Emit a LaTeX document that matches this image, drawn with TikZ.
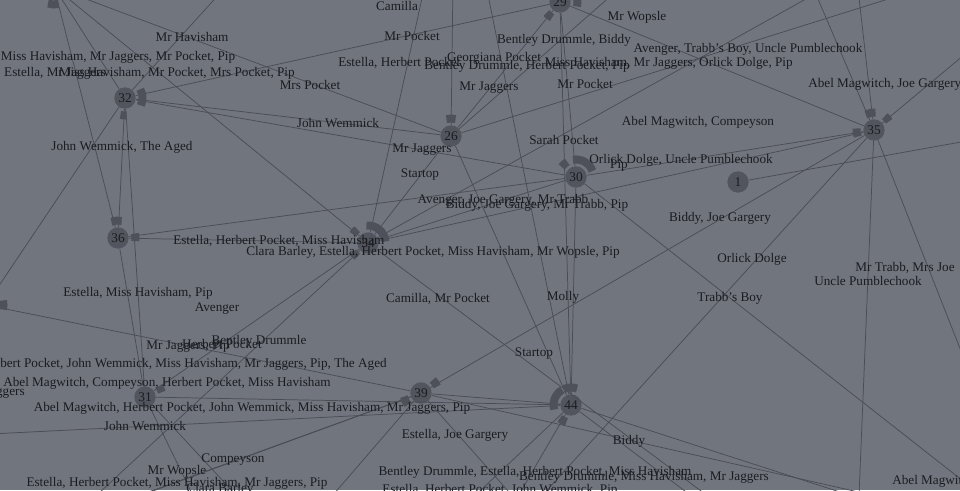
\documentclass[tikz,border=0pt]{standalone}
\usepackage{fontspec}
\setmainfont{Liberation Serif}
\usepackage{tikz}

\definecolor{bgc}{RGB}{113,117,126}
\definecolor{edgec}{RGB}{74,77,85}
\definecolor{nodec}{RGB}{82,85,93}
\definecolor{portc}{RGB}{78,81,89}
\definecolor{txtc}{RGB}{26,28,32}

\tikzset{
  charnode/.style={circle, fill=nodec, minimum size=16pt, inner sep=0pt, text=txtc, font=\fontsize{10}{10}\selectfont},
  link/.style={draw=edgec, line width=0.55pt},
  port/.style={draw=portc, line width=6pt},
  lbl/.style={inner sep=0pt, text=txtc, font=\fontsize{9.9}{11}\selectfont},
}
% arc piece round a node: node, from angle, to angle (angles with y down)
\newcommand{\portarc}[3]{\draw[port] ([shift={(#2:17.5)}]#1.center) arc[start angle=#2, end angle=#3, radius=17.5];}

\begin{document}
\begin{tikzpicture}[x=0.75pt,y=0.75pt,yscale=-1,xscale=1]
        \useasboundingbox (0,0) rectangle (960,490);
        \fill[bgc] (0,0) rectangle (960,490);

        % Points outside the frame
        \coordinate (o1) at (250,-40);
        \coordinate (o2) at (453,-20);
        \coordinate (o3) at (629,-20);
        \coordinate (o4) at (1000,-36);
        \coordinate (o5) at (426,-20);
        \coordinate (o7) at (858,520);
        \coordinate (o8) at (1000,450);
        \coordinate (o9) at (520,520);
        \coordinate (o10) at (1000,510);
        \coordinate (o11) at (485,-20);
        \coordinate (o12) at (812,-15);
        \coordinate (o13) at (857,-20);
        \coordinate (o14) at (1000,25);
        \coordinate (o15) at (840,-20);
        \coordinate (o17) at (70,520);
        \coordinate (o18) at (-30,435);
        \coordinate (o19) at (101,510);
        \coordinate (o20) at (85,515);
        \coordinate (o21) at (320,510);
        \coordinate (o22) at (525,510);
        \coordinate (o23) at (200,510);
        \coordinate (o24) at (250,510);
        \coordinate (o25) at (465,505);
        \coordinate (o26) at (510,510);
        \coordinate (o27) at (710,510);
        \coordinate (o28) at (880,505);
        \coordinate (o29) at (960,515);
        \coordinate (o30) at (740,520);
        \coordinate (o31) at (1000,135);

        % Character nodes
        \node[charnode] (ntl) at (54,-13) {};
        \node[charnode] (nlf) at (-14,305) {};
        \node[charnode] (n29) at (560,2) {29};
        \node[charnode] (n32) at (125,98) {32};
        \node[charnode] (n26) at (451,136) {26};
        \node[charnode] (n30) at (576,177) {30};
        \node[charnode] (n35) at (874,130) {35};
        \node[charnode] (n1) at (738,182) {1};
        \node[charnode] (n36) at (118,238) {36};
        \node[charnode] (n34) at (368,243) {34};
        \node[charnode] (n31) at (145,397) {31};
        \node[charnode] (n39) at (421,393) {39};
        \node[charnode] (n44) at (571,405) {44};

        % Links
        \draw[link] (ntl) -- (n26);
        \draw[link] (ntl) -- (n32);
        \draw[link] (ntl) -- (n34);
        \draw[link] (ntl) -- (n36);
        \draw[link] (n32) -- (n26);
        \draw[link] (n32) -- (n30);
        \draw[link] (n32) -- (n29);
        \draw[link] (n32) -- (n36);
        \draw[link] (n32) -- (n31);
        \draw[link] (nlf) -- (n32);
        \draw[link] (n32) -- (o1);
        \draw[link] (n26) -- (n29);
        \draw[link] (n26) -- (o2);
        \draw[link] (n26) -- (n34);
        \draw[link] (n26) -- (n44);
        \draw[link] (n26) -- (o3);
        \draw[link] (n26) -- (o4);
        \draw[link] (n34) -- (o5);
        \draw[link] (n29) -- (n30);
        \draw[link] (n29) -- (n44);
        \draw[link] (n29) -- (n35);
        \draw[link] (n30) -- (n35);
        \draw[link] (n34) -- (n35);
        \draw[link] (n34) -- (n30);
        \draw[link] (n1) -- (o31);
        \draw[link] (n35) -- (o7);
        \draw[link] (n35) -- (o8);
        \draw[link] (n35) -- (o9);
        \draw[link] (n35) -- (n39);
        \draw[link] (n30) -- (o10);
        \draw[link] (n30) -- (n44);
        \draw[link] (o11) -- (n44);
        \draw[link] (n35) -- (o12);
        \draw[link] (n35) -- (o13);
        \draw[link] (n35) -- (o14);
        \draw[link] (n34) -- (o15);
        \draw[link] (n36) -- (n34);
        \draw[link] (n36) -- (n30);
        \draw[link] (n36) -- (n31);
        \draw[link] (n34) -- (n31);
        \draw[link] (n34) -- (o17);
        \draw[link] (n39) -- (n44);
        \draw[link] (n31) -- (n44);
        \draw[link] (nlf) -- (n39);
        \draw[link] (o18) -- (n44);
        \draw[link] (n39) -- (o19);
        \draw[link] (n39) -- (o20);
        \draw[link] (n39) -- (o21);
        \draw[link] (n39) -- (o22);
        \draw[link] (n31) -- (o23);
        \draw[link] (n31) -- (o24);
        \draw[link] (n44) -- (o25);
        \draw[link] (n44) -- (o26);
        \draw[link] (n44) -- (o27);
        \draw[link] (n44) -- (o28);
        \draw[link] (n39) -- (o29);
        \draw[link] (n34) -- (o30);

        % Arc pieces
        \portarc{ntl}{75}{110}
        \portarc{nlf}{-15}{15}
        \portarc{n32}{-30}{25}
        \portarc{n32}{85}{105}
        \portarc{n26}{255}{285}
        \portarc{n29}{117}{141}
        \portarc{n29}{-10}{15}
        \portarc{n30}{-100}{-20}
        \portarc{n30}{215}{240}
        \portarc{n35}{-118}{-85}
        \portarc{n35}{-52}{-30}
        \portarc{n35}{158}{185}
        \portarc{n36}{-112}{-78}
        \portarc{n36}{-15}{10}
        \portarc{n34}{-95}{-5}
        \portarc{n34}{210}{232}
        \portarc{n34}{128}{150}
        \portarc{n31}{-38}{-16}
        \portarc{n39}{-48}{-22}
        \portarc{n39}{138}{168}
        \portarc{n44}{165}{240}
        \portarc{n44}{-115}{-70}
        \portarc{n44}{105}{130}

        % Text Nodes
        \node[lbl] (l01) at (397,6) {Camilla};
        \node[lbl] (l02) at (637,17) {Mr Wopsle};
        \node[lbl] (l03) at (192,37) {Mr Havisham};
        \node[lbl] (l04) at (412,36) {Mr Pocket};
        \node[lbl] (l05) at (564,40) {Bentley Drummle, Biddy};
        \node[lbl] (l06) at (748,49) {Avenger, Trabb's Boy, Uncle Pumblechook};
        \node[lbl] (l07) at (118,57) {Miss Havisham, Mr Jaggers, Mr Pocket, Pip};
        \node[lbl] (l08) at (494,58) {Georgiana Pocket};
        \node[lbl, anchor=west] (l09) at (338,63) {Estella, Herbert Pocket};
        \node[lbl, anchor=east] (l10) at (793,63) {Miss Havisham, Mr Jaggers, Orlick Dolge, Pip};
        \node[lbl] (l11) at (527,66) {Bentley Drummle, Herbert Pocket, Pip};
        \node[lbl] (l12) at (55,73) {Estella, Mr Jaggers};
        \node[lbl, anchor=east] (l13) at (295,73) {Miss Havisham, Mr Pocket, Mrs Pocket, Pip};
        \node[lbl] (l14) at (310,85) {Mrs Pocket};
        \node[lbl] (l15) at (489,88) {Mr Jaggers};
        \node[lbl] (l16) at (585,84) {Mr Pocket};
        \node[lbl, anchor=west] (l17) at (808,84) {Abel Magwitch, Joe Gargery};
        \node[lbl] (l18) at (338,123) {John Wemmick};
        \node[lbl] (l19) at (698,122) {Abel Magwitch, Compeyson};
        \node[lbl] (l20) at (564,140) {Sarah Pocket};
        \node[lbl] (l21) at (122,147) {John Wemmick, The Aged};
        \node[lbl] (l22) at (422,150) {Mr Jaggers};
        \node[lbl, anchor=east] (l23) at (773,160) {Orlick Dolge, Uncle Pumblechook};
        \node[lbl] (l24) at (619,166) {Pip};
        \node[lbl] (l25) at (420,175) {Startop};
        \node[lbl] (l26) at (503,200) {Avenger, Joe Gargery, Mr Trabb};
        \node[lbl] (l27) at (537,205) {Biddy, Joe Gargery, Mr Trabb, Pip};
        \node[lbl] (l28) at (720,218) {Biddy, Joe Gargery};
        \node[lbl, anchor=west] (l29) at (173,241) {Estella, Herbert Pocket, Miss Havisham};
        \node[lbl, anchor=east] (l30) at (620,252) {Clara Barley, Estella, Herbert Pocket, Miss Havisham, Mr Wopsle, Pip};
        \node[lbl] (l31) at (752,259) {Orlick Dolge};
        \node[lbl] (l32) at (905,268) {Mr Trabb, Mrs Joe};
        \node[lbl] (l33) at (868,281) {Uncle Pumblechook};
        \node[lbl] (l34) at (138,293) {Estella, Miss Havisham, Pip};
        \node[lbl] (l35) at (563,297) {Molly};
        \node[lbl] (l36) at (438,299) {Camilla, Mr Pocket};
        \node[lbl] (l37) at (730,298) {Trabb's Boy};
        \node[lbl] (l38) at (217,309) {Avenger};
        \node[lbl] (l39) at (259,341) {Bentley Drummle};
        \node[lbl] (l40) at (222,344) {Herbert Pocket};
        \node[lbl] (l41) at (188,347) {Mr Jaggers, Pip};
        \node[lbl] (l42) at (534,354) {Startop};
        \node[lbl, anchor=east] (l43) at (387,364) {Herbert Pocket, John Wemmick, Miss Havisham, Mr Jaggers, Pip, The Aged};
        \node[lbl, anchor=west] (l44) at (3,383) {Abel Magwitch, Compeyson, Herbert Pocket, Miss Havisham};
        \node[lbl, anchor=east] (l45) at (25,393) {Mr Jaggers};
        \node[lbl] (l46) at (252,408) {Abel Magwitch, Herbert Pocket, John Wemmick, Miss Havisham, Mr Jaggers, Pip};
        \node[lbl] (l47) at (145,426) {John Wemmick};
        \node[lbl] (l48) at (455,435) {Estella, Joe Gargery};
        \node[lbl] (l49) at (629,441) {Biddy};
        \node[lbl] (l50) at (233,460) {Compeyson};
        \node[lbl] (l51) at (177,471) {Mr Wopsle};
        \node[lbl] (l52) at (535,472) {Bentley Drummle, Estella, Herbert Pocket, Miss Havisham};
        \node[lbl] (l53) at (644,477) {Bentley Drummle, Miss Havisham, Mr Jaggers};
        \node[lbl] (l54) at (177,483) {Estella, Herbert Pocket, Miss Havisham, Mr Jaggers, Pip};
        \node[lbl, anchor=west] (l55) at (892,481) {Abel Magwitch};
        \node[lbl] (l56) at (500,490) {Estella, Herbert Pocket, John Wemmick, Pip};
        \node[lbl] (l57) at (220,489) {Clara Barley};

\end{tikzpicture}
\end{document}
